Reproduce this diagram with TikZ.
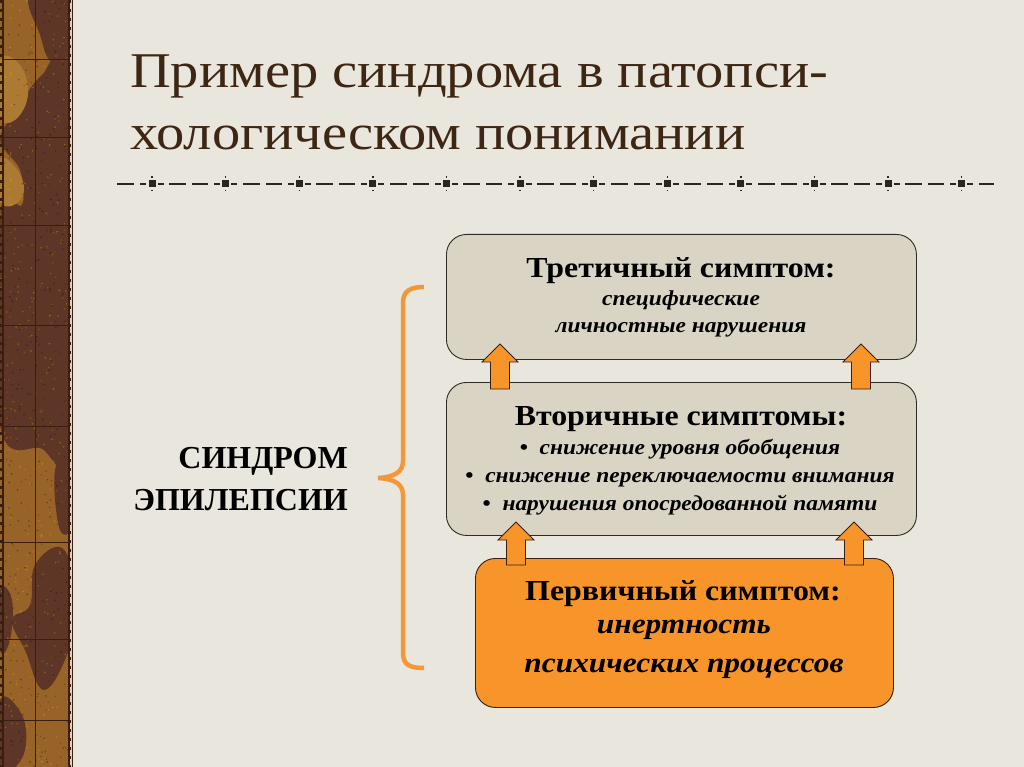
\documentclass[tikz,border=0pt]{standalone}
\usepackage{fontspec}
\setmainfont{Liberation Serif}
\newfontfamily\titlefont[FakeStretch=1.13]{Liberation Serif}
\newfontfamily\boxfont[FakeStretch=1.1]{Liberation Serif}
\definecolor{bg}{HTML}{E9E6DD}
\definecolor{boxfill}{HTML}{DAD4C5}
\definecolor{orangefill}{HTML}{F7952B}
\definecolor{bracecol}{HTML}{F3973A}
\definecolor{titlecol}{HTML}{3D2714}
\definecolor{stripbase}{HTML}{976328}
\definecolor{stripdark}{HTML}{5E3627}
\definecolor{striplight}{HTML}{AD7A33}
\definecolor{gridcol}{HTML}{3A1E10}
\definecolor{edgecol}{HTML}{2E2A26}
\definecolor{dashcol}{HTML}{2A2520}
\tikzset{
  symbox/.style={draw=edgecol, line width=0.9pt, rounded corners=20pt, anchor=north west, inner sep=0pt},
  greybox/.style={symbox, fill=boxfill},
  orangebox/.style={symbox, fill=orangefill, draw=gridcol},
  headtxt/.style={font=\boxfont\fontsize{29}{32}\selectfont\bfseries, anchor=base, text=black, inner sep=0pt},
  subtxt/.style={font=\boxfont\fontsize{21.3}{24}\selectfont\bfseries\itshape, anchor=base, text=black, inner sep=0pt},
  primtxt/.style={font=\boxfont\fontsize{28.5}{32}\selectfont\bfseries\itshape, anchor=base, text=black, inner sep=0pt},
  titletxt/.style={font=\titlefont\fontsize{50}{55}\selectfont, anchor=base west, text=titlecol, inner sep=0pt},
  sidetxt/.style={font=\fontsize{32}{36}\selectfont\bfseries, anchor=base east, text=black, inner sep=0pt},
  arrowstyle/.style={fill=orangefill, draw=gridcol, line width=0.8pt, line join=miter},
  uparr/.pic={\draw[arrowstyle] (0,0) -- (18,18) -- (9.5,18) -- (9.5,#1) -- (-9.5,#1) -- (-9.5,18) -- (-18,18) -- cycle;},
  bracestyle/.style={draw=bracecol, line width=4.5pt}
}
\begin{document}
\begin{tikzpicture}[x=1pt,y=-1pt]
\useasboundingbox (0,0) rectangle (1024,767);
\fill[bg] (0,0) rectangle (1024,767);
% decorative strip
\begin{scope}
\clip (0,0) rectangle (70,767);
\fill[stripbase] (0,0) rectangle (70,767);
\fill[stripdark] plot[smooth cycle, tension=0.7] coordinates {(30,-5) (75,-5) (75,55) (52,62) (40,35)};
\fill[stripdark] plot[smooth cycle, tension=0.6] coordinates {(42,75) (75,62) (75,440) (40,448) (0,425) (0,215) (22,205) (20,170) (0,140) (18,108)};
\fill[striplight] plot[smooth cycle, tension=0.7] coordinates {(0,160) (16,168) (24,190) (14,205) (0,200)};
\fill[striplight] plot[smooth cycle, tension=0.7] coordinates {(0,60) (20,65) (28,95) (15,120) (0,115)};
\fill[stripdark] plot[smooth cycle, tension=0.7] coordinates {(35,565) (62,548) (75,590) (72,640) (45,690) (25,650) (12,620) (30,605)};
\fill[stripdark] plot[smooth cycle, tension=0.7] coordinates {(0,590) (12,600) (10,640) (0,650)};
\fill[stripdark] plot[smooth cycle, tension=0.7] coordinates {(0,700) (22,715) (25,750) (10,772) (0,772)};
\fill[stripdark] plot[smooth cycle, tension=0.7] coordinates {(55,470) (72,460) (75,520) (60,530)};
\pgfmathsetseed{7}
\foreach \k in {1,...,700}{
  \pgfmathsetmacro{\px}{rnd*70}
  \pgfmathsetmacro{\py}{rnd*767}
  \pgfmathsetmacro{\op}{0.15+0.25*rnd}
  \ifodd\k
    \fill[black, opacity=\op] (\px,\py) circle (0.9);
  \else
    \fill[orange!60!yellow, opacity=\op] (\px,\py) circle (0.9);
  \fi
}
\end{scope}
\draw[gridcol, line width=1pt] (35.5,0) -- (35.5,767);
\foreach \yy in {60,138,226,325,426,542,639,720}
  \draw[gridcol, line width=1pt] (3,\yy) -- (69,\yy);
\draw[gridcol, line width=1.3pt] (3,0) -- (3,767);
\draw[gridcol, line width=1.3pt] (69,0) -- (69,767);
\fill[fill=white!70!stripbase] (69.6,0) rectangle (71.6,767);
\draw[gridcol, line width=1.5pt] (72.5,0) -- (72.5,767);
\draw[gridcol, line width=1.5pt, dash pattern=on 3pt off 6pt] (1,0) -- (1,767);
\draw[gridcol, line width=1.5pt, dash pattern=on 3pt off 6pt] (70.5,0) -- (70.5,767);
% title
\node[titletxt] (title1) at (130,88) {Пример синдрома в патопси-};
\node[titletxt] (title2) at (130,150) {хологическом понимании};
% dashed separator
\foreach \i in {0,...,11}{
  \pgfmathsetmacro{\c}{152+\i*73.6}
  \fill[dashcol] (\c-3.5,180.5) rectangle (\c+3.5,187.5);
  \fill[dashcol] (\c-0.7,176.5) rectangle (\c+0.7,178);
  \fill[dashcol] (\c-0.7,190) rectangle (\c+0.7,191.5);
  \fill[dashcol] (\c+5.5,183) rectangle (\c+11.5,185);
  \ifnum\i<11
    \fill[dashcol] (\c+17,183) rectangle (\c+34,185);
    \fill[dashcol] (\c+40,183) rectangle (\c+56,185);
    \fill[dashcol] (\c+62,183) rectangle (\c+68,185);
  \else
    \fill[dashcol] (\c+17,183) rectangle (\c+32,185);
  \fi
}
\fill[dashcol] (117,183) rectangle (134,185);
\fill[dashcol] (139.5,183) rectangle (145.5,185);
% boxes
\node[greybox, minimum width=470pt, minimum height=125pt] (tert) at (446,234) {};
\node[greybox, minimum width=470pt, minimum height=153pt] (sec) at (446,382) {};
\node[orangebox, minimum width=418pt, minimum height=149pt] (prim) at (475,558) {};
% arrows
\pic at (500,344) {uparr=45};
\pic at (861,344) {uparr=45};
\pic at (516,522) {uparr=43};
\pic at (854,522) {uparr=43};
% texts
\node[headtxt] (t1) at (681,277) {Третичный симптом:};
\node[subtxt] (t2) at (681,305) {специфические};
\node[subtxt] (t3) at (681,332) {личностные нарушения};
\node[headtxt] (s1) at (681,425) {Вторичные симптомы:};
\node[subtxt] (s2) at (680,454) {{\upshape•}\ \ снижение уровня обобщения};
\node[subtxt] (s3) at (680,482) {{\upshape•}\ \ снижение переключаемости внимания};
\node[subtxt] (s4) at (680,510) {{\upshape•}\ \ нарушения опосредованной памяти};
\node[headtxt] (p1) at (683,600) {Первичный симптом:};
\node[primtxt] (p2) at (684,633) {инертность};
\node[primtxt] (p3) at (684,672) {психических процессов};
% side label and brace
\node[sidetxt] (side1) at (348,468) {СИНДРОМ};
\node[sidetxt] (side2) at (348,510) {ЭПИЛЕПСИИ};
\draw[bracestyle] (424,287) .. controls (410,287) and (403,291) .. (403,303) -- (403,461)
  .. controls (403,471) and (396,477) .. (378,478)
  .. controls (396,479) and (403,485) .. (403,495) -- (403,653)
  .. controls (403,665) and (410,668) .. (424,668);
\end{tikzpicture}
\end{document}
